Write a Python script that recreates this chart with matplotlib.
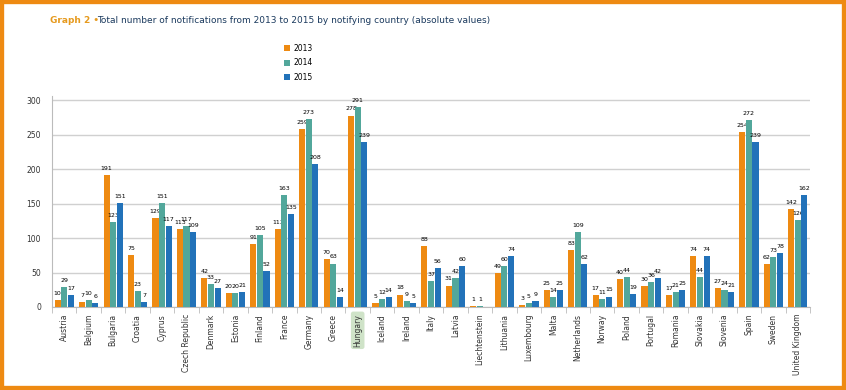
import matplotlib.pyplot as plt
import matplotlib.patches as patches
import numpy as np

countries = ['Austria', 'Belgium', 'Bulgaria', 'Croatia', 'Cyprus', 'Czech Republic',
             'Denmark', 'Estonia', 'Finland', 'France', 'Germany', 'Greece', 'Hungary',
             'Iceland', 'Ireland', 'Italy', 'Latvia', 'Liechtenstein', 'Lithuania',
             'Luxembourg', 'Malta', 'Netherlands', 'Norway', 'Poland', 'Portugal',
             'Romania', 'Slovakia', 'Slovenia', 'Spain', 'Sweden', 'United Kingdom']
v2013 = [10, 7, 191, 75, 129, 113, 42, 20, 91, 113, 259, 70, 278, 5, 18, 88, 31, 1, 49,
         3, 25, 83, 17, 40, 30, 17, 74, 27, 254, 62, 142]
v2014 = [29, 10, 123, 23, 151, 117, 33, 20, 105, 163, 273, 63, 291, 12, 9, 37, 42, 1, 60,
         5, 14, 109, 11, 44, 36, 21, 44, 24, 272, 73, 126]
v2015 = [17, 6, 151, 7, 117, 109, 27, 21, 52, 135, 208, 14, 239, 14, 5, 56, 60, 0, 74,
         9, 25, 62, 15, 19, 42, 25, 74, 21, 239, 78, 162]
years = ['2013', '2014', '2015']
colors = ['#EE8A12', '#52A79B', '#2272B9']

fig = plt.figure(figsize=(8.46, 3.9), dpi=100)
ax = fig.add_axes([0.0615, 0.213, 0.896, 0.54])

x = np.arange(len(countries))
w = 0.25
for i, (vals, col, yr) in enumerate(zip([v2013, v2014, v2015], colors, years)):
    bars = ax.bar(x + (i - 1) * 0.27, vals, w, color=col, label=yr, zorder=3)
    for b, v in zip(bars, vals):
        if v > 0:
            ax.text(b.get_x() + b.get_width() / 2, v + 6, str(v), ha='center', va='bottom',
                    fontsize=4.5, color='black')

ax.set_xlim(-0.5, len(countries) - 0.5)
ax.set_ylim(0, 306)
ax.set_yticks(range(0, 301, 50))
ax.yaxis.grid(True, color='#d0d0d0', linewidth=1, zorder=0)
ax.tick_params(axis='y', length=0, labelsize=5.5, colors='#333333', pad=8)
ax.set_xticks(x)
ax.set_xticklabels(countries, rotation=90, fontsize=5.5, color='#333333')
ax.tick_params(axis='x', length=0, pad=5)
ax.set_xticks(np.arange(-0.5, len(countries)), minor=True)
ax.tick_params(axis='x', which='minor', length=4, color='#bbbbbb')
for s in ['top', 'right']:
    ax.spines[s].set_visible(False)
ax.spines['left'].set_color('#bbbbbb')
ax.spines['bottom'].set_color('#bbbbbb')

for lbl in ax.get_xticklabels():
    if lbl.get_text() == 'Hungary':
        lbl.set_bbox(dict(boxstyle='round,pad=0.3', facecolor='#cfe3c8', edgecolor='none'))

fig.legend(loc='upper left', bbox_to_anchor=(0.327, 0.905), frameon=False, fontsize=5.5,
           handlelength=0.8, handleheight=0.8, labelspacing=0.7, handletextpad=0.5)

fig.text(0.059, 0.948, 'Graph 2 \u2022', fontsize=6.5, color='#E69A1E', weight='bold',
         va='center')
fig.text(0.115, 0.948, 'Total number of notifications from 2013 to 2015 by notifying country (absolute values)',
         fontsize=6.5, color='#1B3A5E', va='center')

fig.patches.append(patches.Rectangle((0, 0), 1, 1, transform=fig.transFigure, fill=False,
                                     edgecolor='#EE8A12', linewidth=6, zorder=10))

fig.savefig('out.png', dpi=100)
